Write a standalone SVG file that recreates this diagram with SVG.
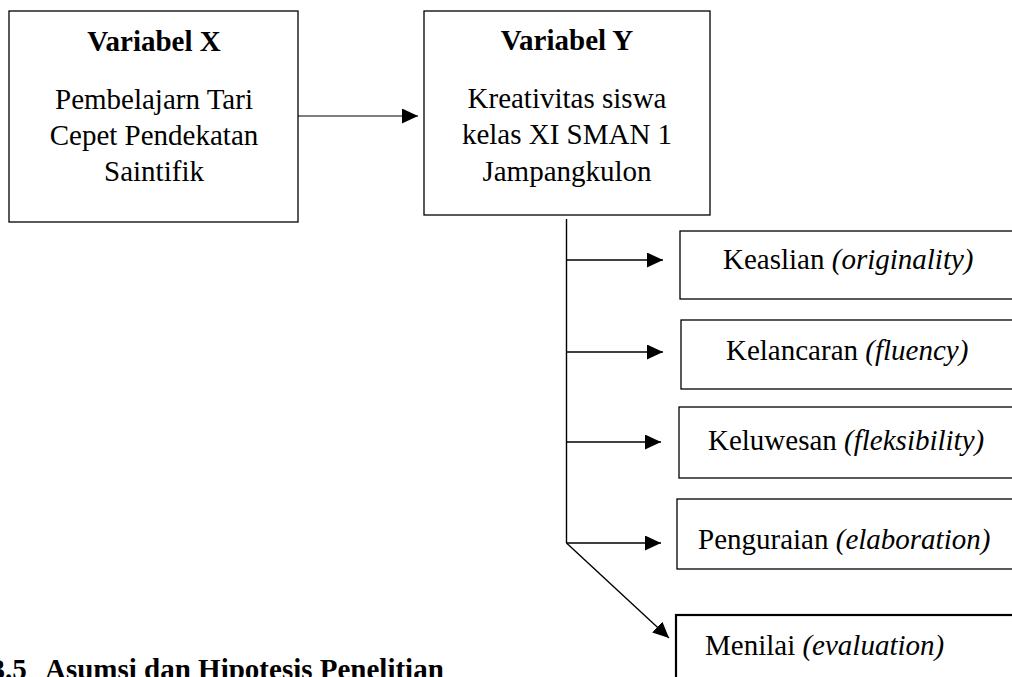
<svg xmlns="http://www.w3.org/2000/svg" width="1012" height="677" viewBox="0 0 1012 677">
  <style>
    .box { fill: #ffffff; stroke: #000000; stroke-width: 1.3; }
    .boxb { fill: #ffffff; stroke: #000000; stroke-width: 2.2; }
    .t { font-family: "Liberation Serif", "Times New Roman", serif; font-size: 29px; fill: #000000; }
    .c { text-anchor: middle; }
    .b { font-weight: bold; }
    .i { font-style: italic; }
    .conn { stroke: #000000; stroke-width: 1.4; fill: none; }
  </style>
  <defs>
    <marker id="arr" markerUnits="userSpaceOnUse" markerWidth="16" markerHeight="16" refX="16" refY="7.5" orient="auto">
      <path d="M0,0 L16,7.5 L0,15 Z" fill="#000000"/>
    </marker>
  </defs>
  <rect width="1012" height="677" fill="#ffffff"/>

  <g id="node-x">
    <rect class="box" x="9" y="11" width="289" height="211"/>
    <text class="t c b" x="154" y="51">Variabel X</text>
    <text class="t c" x="154" y="109">Pembelajarn Tari</text>
    <text class="t c" x="154" y="145">Cepet Pendekatan</text>
    <text class="t c" x="154" y="181">Saintifik</text>
  </g>

  <g id="node-y">
    <rect class="box" x="424" y="11" width="286" height="204"/>
    <text class="t c b" x="567" y="50">Variabel Y</text>
    <text class="t c" x="567" y="108">Kreativitas siswa</text>
    <text class="t c" x="567" y="144">kelas XI SMAN 1</text>
    <text class="t c" x="567" y="181">Jampangkulon</text>
  </g>

  <g id="node-keaslian">
    <rect class="box" x="680" y="231" width="360" height="68"/>
    <text class="t" x="723" y="269">Keaslian <tspan class="i">(originality)</tspan></text>
  </g>

  <g id="node-kelancaran">
    <rect class="box" x="681" y="320" width="360" height="69"/>
    <text class="t" x="726" y="360">Kelancaran <tspan class="i">(fluency)</tspan></text>
  </g>

  <g id="node-keluwesan">
    <rect class="box" x="679" y="407" width="360" height="71"/>
    <text class="t" x="708" y="450">Keluwesan <tspan class="i">(fleksibility)</tspan></text>
  </g>

  <g id="node-penguraian">
    <rect class="box" x="677" y="499" width="360" height="70"/>
    <text class="t" x="698" y="549">Penguraian <tspan class="i">(elaboration)</tspan></text>
  </g>

  <g id="node-menilai">
    <rect class="boxb" x="676" y="615" width="360" height="90"/>
    <text class="t" x="705" y="655">Menilai <tspan class="i">(evaluation)</tspan></text>
  </g>

  <g id="connectors">
    <line class="conn" x1="298" y1="116" x2="418" y2="116" marker-end="url(#arr)" style="stroke-width:1.1"/>
    <line class="conn" x1="566.5" y1="219" x2="566.5" y2="543"/>
    <line class="conn" x1="566.5" y1="260" x2="663" y2="260" marker-end="url(#arr)"/>
    <line class="conn" x1="566.5" y1="352" x2="663" y2="352" marker-end="url(#arr)"/>
    <line class="conn" x1="566.5" y1="442" x2="661" y2="442" marker-end="url(#arr)"/>
    <line class="conn" x1="566.5" y1="543" x2="661" y2="543" marker-end="url(#arr)"/>
    <line class="conn" x1="566.5" y1="543" x2="669" y2="638" marker-end="url(#arr)"/>
  </g>

  <g id="heading">
    <text class="t b" x="-9.5" y="679">3.5</text>
    <text class="t b" x="45" y="679">Asumsi dan Hipotesis Penelitian</text>
  </g>
</svg>
